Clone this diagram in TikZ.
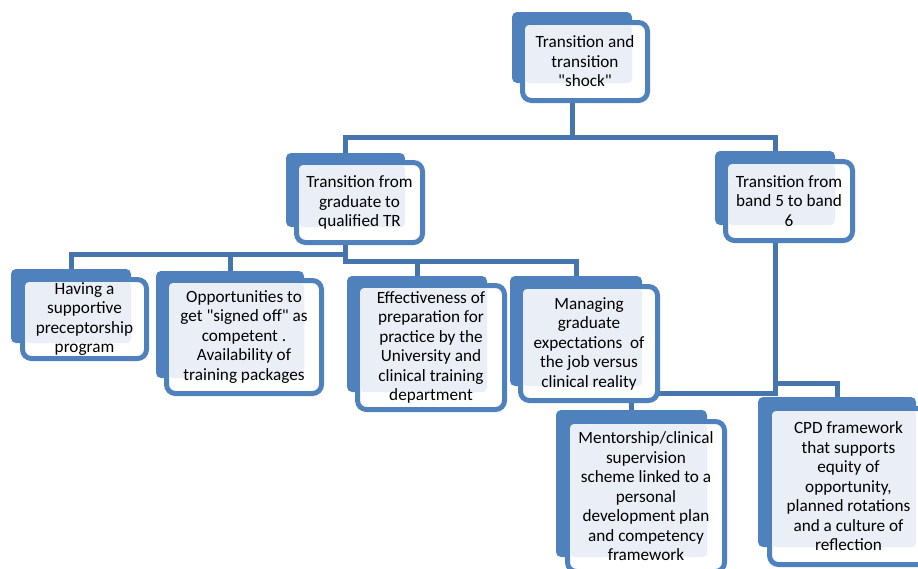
\documentclass[tikz,border=0pt]{standalone}
\usepackage{fontspec}
\newfontfamily\boxfont{Carlito}
\usepackage{tikz}
\usetikzlibrary{calc}
\definecolor{boxblue}{HTML}{4F81BD}
\definecolor{linkblue}{HTML}{4674AC}
\definecolor{paleblue}{HTML}{EAEFF7}
\tikzset{
  backbox/.style={fill=boxblue, rounded corners=5pt, inner sep=0pt, outer sep=0pt},
  frontbox/.style={draw=boxblue, line width=5pt, fill=white, rounded corners=9pt, inner sep=0pt, outer sep=0pt},
  boxtext/.style={align=center, inner sep=0pt, font=\boxfont\fontsize{17.2}{19.5}\selectfont},
  link/.style={draw=linkblue, line width=5pt}
}

\begin{document}
\begin{tikzpicture}[x=1pt, y=-1pt]
  \useasboundingbox (0,0) rectangle (918,568);
  \node[backbox, minimum width=120pt, minimum height=71pt] (rootback) at (572,47.5) {};
  \node[backbox, minimum width=119pt, minimum height=74pt] (gradback) at (345.5,190) {};
  \node[backbox, minimum width=120pt, minimum height=74pt] (bandback) at (775,188) {};
  \node[backbox, minimum width=120pt, minimum height=74pt] (precepback) at (71,306) {};
  \node[backbox, minimum width=148pt, minimum height=107pt] (signback) at (230,324.5) {};
  \node[backbox, minimum width=140pt, minimum height=116pt] (prepback) at (417,334) {};
  \node[backbox, minimum width=132pt, minimum height=110pt] (expectback) at (576,331) {};
  \node[backbox, minimum width=151pt, minimum height=147pt] (mentorback) at (631.5,483.5) {};
  \node[backbox, minimum width=158pt, minimum height=150pt] (cpdback) at (837,472) {};

  \draw[link] (rootback.south) -- ++(0,54) -| (gradback.north);
  \draw[link] (rootback.south) -- ++(0,54) -| (bandback.north);
  \draw[link] (gradback.south) -- ++(0,27) -| (precepback.north);
  \draw[link] (gradback.south) -- ++(0,27) -| (signback.north);
  \draw[link] (gradback.south) -- ++(0,34) -| (prepback.north);
  \draw[link] (gradback.south) -- ++(0,34) -| (expectback.north);
  \draw[link] (bandback.south) -- ++(0,168) -| (mentorback.north);
  \draw[link] (bandback.south) -- ++(0,158) -| (cpdback.north);

  \node[frontbox, minimum width=125pt, minimum height=78pt] (rootfront) at (585,61.5) {};
  \fill[paleblue, rounded corners=4pt] ($(rootfront.north west)+(2.5,2.5)$) rectangle (rootback.south east);
  \node[boxtext] (roottext) at (rootfront) {Transition and\\ transition\\ "shock"};

  \node[frontbox, minimum width=126pt, minimum height=80pt] (gradfront) at (359.5,202.5) {};
  \fill[paleblue, rounded corners=4pt] ($(gradfront.north west)+(2.5,2.5)$) rectangle (gradback.south east);
  \node[boxtext] (gradtext) at (gradfront) {Transition from\\ graduate to\\ qualified TR};

  \node[frontbox, minimum width=127pt, minimum height=79pt] (bandfront) at (789,201) {};
  \fill[paleblue, rounded corners=4pt] ($(bandfront.north west)+(2.5,2.5)$) rectangle (bandback.south east);
  \node[boxtext] (bandtext) at (bandfront) {Transition from\\ band 5 to band\\ 6};

  \node[frontbox, minimum width=124pt, minimum height=79pt] (precepfront) at (84.5,319) {};
  \fill[paleblue, rounded corners=4pt] ($(precepfront.north west)+(2.5,2.5)$) rectangle (precepback.south east);
  \node[boxtext] (preceptext) at (precepfront) {Having a\\ supportive\\ preceptorship\\ program};

  \node[frontbox, minimum width=155pt, minimum height=113pt] (signfront) at (244,337) {};
  \fill[paleblue, rounded corners=4pt] ($(signfront.north west)+(2.5,2.5)$) rectangle (signback.south east);
  \node[boxtext] (signtext) at (signfront) {Opportunities to\\ get "signed off" as\\ competent .\\ Availability of\\ training packages};

  \node[frontbox, minimum width=147pt, minimum height=124pt] (prepfront) at (431,347.5) {};
  \fill[paleblue, rounded corners=4pt] ($(prepfront.north west)+(2.5,2.5)$) rectangle (prepback.south east);
  \node[boxtext] (preptext) at (prepfront) {Effectiveness of\\ preparation for\\ practice by the\\ University and\\ clinical training\\ department};

  \node[frontbox, minimum width=137pt, minimum height=114pt] (expectfront) at (589,343.5) {};
  \fill[paleblue, rounded corners=4pt] ($(expectfront.north west)+(2.5,2.5)$) rectangle (expectback.south east);
  \node[boxtext] (expecttext) at (expectfront) {Managing\\ graduate\\ expectations\ \ of\\ the job versus\\ clinical reality};

  \node[frontbox, minimum width=157pt, minimum height=150pt] (mentorfront) at (646,496.5) {};
  \fill[paleblue, rounded corners=4pt] ($(mentorfront.north west)+(2.5,2.5)$) rectangle (mentorback.south east);
  \node[boxtext] (mentortext) at (mentorfront) {Mentorship/clinical\\ supervision\\ scheme linked to a\\ personal\\ development plan\\ and competency\\ framework};

  \node[frontbox, minimum width=158pt, minimum height=156pt] (cpdfront) at (848.5,486.5) {};
  \fill[paleblue, rounded corners=4pt] ($(cpdfront.north west)+(2.5,2.5)$) rectangle (cpdback.south east);
  \node[boxtext] (cpdtext) at (cpdfront) {CPD framework\\ that supports\\ equity of\\ opportunity,\\ planned rotations\\ and a culture of\\ reflection};
\end{tikzpicture}
\end{document}
